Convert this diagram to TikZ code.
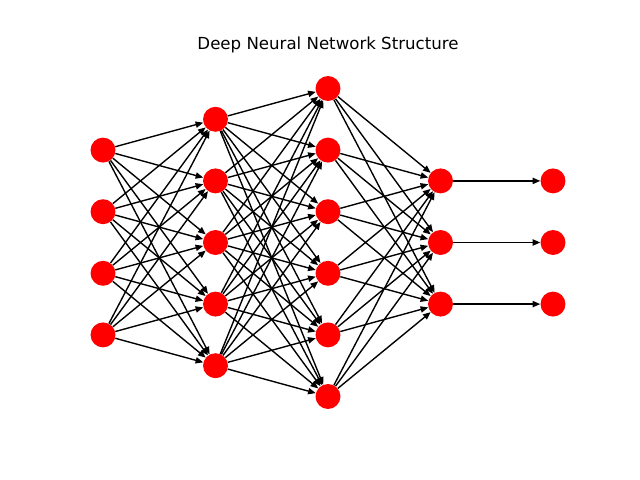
\documentclass[tikz,border=0pt]{standalone}
\usepackage{fontspec}
\setmainfont{DejaVu Sans}
\usetikzlibrary{arrows.meta}
\tikzset{
	neuron/.style={circle, fill=red, inner sep=0pt, minimum size=18pt},
	synapse/.style={line width=1pt, -{Triangle[length=5.5pt,width=4.5pt]}}
}
\begin{document}
\begin{tikzpicture}[x=0.01in, y=-0.01in]
		\useasboundingbox (0,0) rectangle (640,480);
		% Title
		\node[font=\fontsize{12}{14}\selectfont] (title) at (328,45) {Deep Neural Network Structure};
		% Layers
		\foreach \i in {1,...,4}
			\node[neuron] (a\i) at (103,{242.5+(\i-2.5)*61.6}) {};
		\foreach \i in {1,...,5}
			\node[neuron] (b\i) at (215.5,{242.5+(\i-3)*61.6}) {};
		\foreach \i in {1,...,6}
			\node[neuron] (c\i) at (328,{242.5+(\i-3.5)*61.6}) {};
		\foreach \i in {1,...,3}
			\node[neuron] (d\i) at (440.5,{242.5+(\i-2)*61.6}) {};
		\foreach \i in {1,...,3}
			\node[neuron] (e\i) at (553,{242.5+(\i-2)*61.6}) {};
		% Connections
		\foreach \i in {1,...,4}
			\foreach \j in {1,...,5}
				\draw[synapse] (a\i) -- (b\j);
		\foreach \i in {1,...,5}
			\foreach \j in {1,...,6}
				\draw[synapse] (b\i) -- (c\j);
		\foreach \i in {1,...,6}
			\foreach \j in {1,...,3}
				\draw[synapse] (c\i) -- (d\j);
		\foreach \i in {1,...,3}
			\draw[synapse] (d\i) -- (e\i);
	\end{tikzpicture}
\end{document}
